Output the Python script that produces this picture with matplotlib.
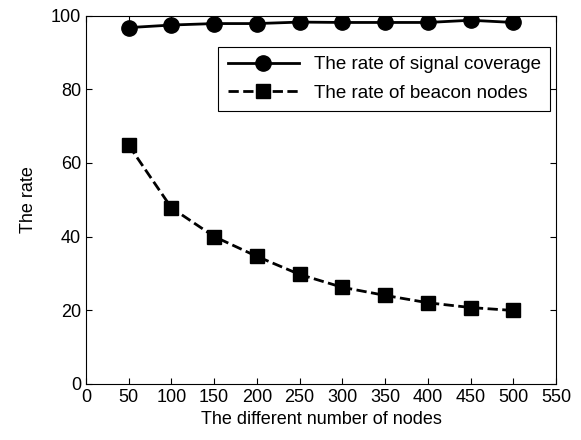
import numpy as np
import matplotlib.pyplot as plt

plt.rcParams['font.family'] = ['Liberation Sans', 'DejaVu Sans']

nodes = [50, 100, 150, 200, 250, 300, 350, 400, 450, 500]
coverage = [96.8, 97.5, 97.9, 97.9, 98.3, 98.2, 98.2, 98.2, 98.8, 98.2]
beacon = [64.8, 47.8, 40.0, 34.6, 29.7, 26.2, 24.0, 22.0, 20.7, 19.9]

fig = plt.figure(figsize=(5.81, 4.4), dpi=100)
ax = fig.add_axes([0.148, 0.128, 0.809, 0.836])
ax.plot(nodes, coverage, 'k-', marker='o', markersize=11, linewidth=2,
        label='The rate of signal coverage')
ax.plot(nodes, beacon, 'k--', marker='s', markersize=10, linewidth=2,
        label='The rate of beacon nodes')
ax.set_xlim(0, 550)
ax.set_ylim(0, 100)
ax.set_xticks(np.arange(0, 551, 50))
ax.set_yticks(np.arange(0, 101, 20))
ax.tick_params(direction='in', top=True, right=True, labelsize=13, length=4)
ax.set_xlabel('The different number of nodes', fontsize=13)
ax.set_ylabel('The rate', fontsize=13, labelpad=10)
leg = ax.legend(loc='upper right', bbox_to_anchor=(0.988, 0.916), fontsize=13.5,
                fancybox=False, edgecolor='black', framealpha=1,
                handlelength=3.8, borderaxespad=0, labelspacing=0.6,
                borderpad=0.5)
leg.get_frame().set_linewidth(0.8)
fig.savefig('out.png', dpi=100)
